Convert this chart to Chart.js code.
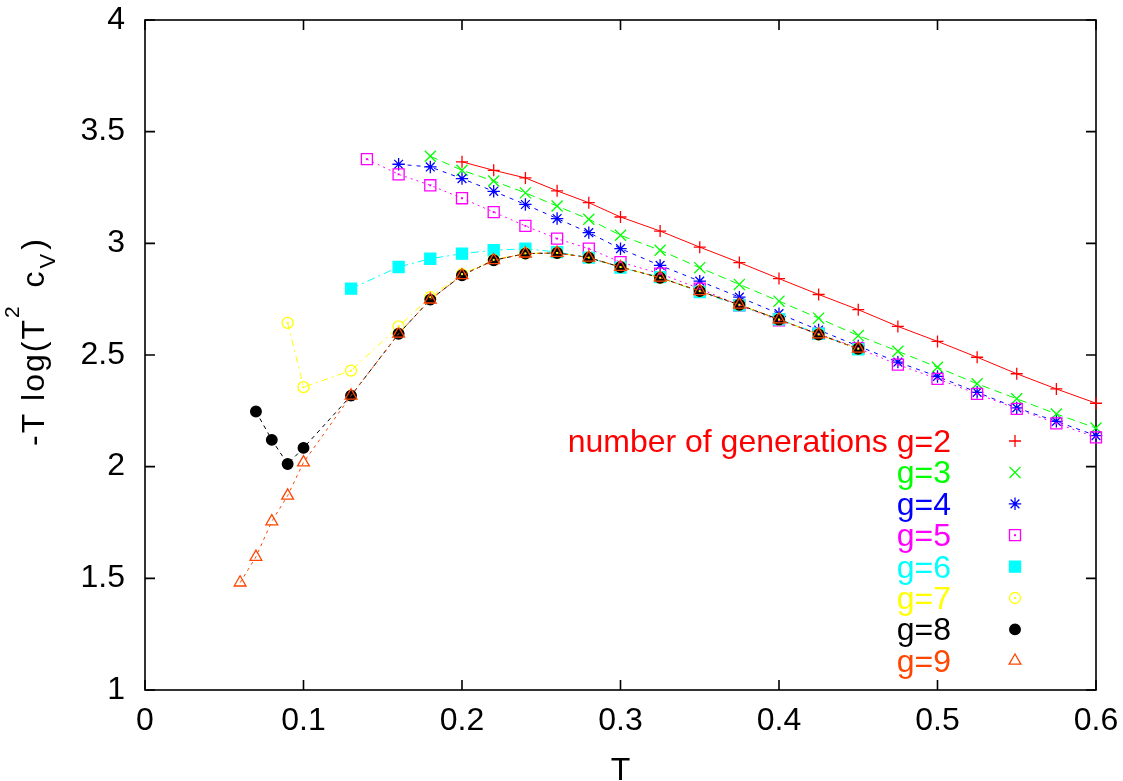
<!DOCTYPE html>
<html>
<head>
<meta charset="utf-8">
<script src="https://cdn.jsdelivr.net/npm/chart.js@4.4.1/dist/chart.umd.min.js"></script>
<style>
html, body { margin: 0; padding: 0; background: #fff; }
#wrap { width: 1123px; height: 781px; position: relative; }
</style>
</head>
<body>
<div id="wrap"><canvas id="myChart"></canvas></div>
<script>
'use strict';

// ---- data ----
let xTickLabels = ['0', '0.1', '0.2', '0.3', '0.4', '0.5', '0.6'];
let yTickLabels = ['1', '1.5', '2', '2.5', '3', '3.5', '4'];

let seriesNames = ['number of generations g=2', 'g=3', 'g=4', 'g=5', 'g=6', 'g=7', 'g=8', 'g=9'];

let tG2 = [0.2, 0.22, 0.24, 0.26, 0.28, 0.3, 0.325, 0.35, 0.375, 0.4, 0.425, 0.45, 0.475, 0.5, 0.525, 0.55, 0.575, 0.6];
let yG2 = [3.365, 3.327, 3.293, 3.235, 3.182, 3.118, 3.055, 2.983, 2.914, 2.842, 2.771, 2.703, 2.628, 2.561, 2.490, 2.416, 2.348, 2.284];

let tG3 = [0.18, 0.2, 0.22, 0.24, 0.26, 0.28, 0.3, 0.325, 0.35, 0.375, 0.4, 0.425, 0.45, 0.475, 0.5, 0.525, 0.55, 0.575, 0.6];
let yG3 = [3.39, 3.327, 3.279, 3.226, 3.167, 3.108, 3.036, 2.969, 2.891, 2.816, 2.741, 2.665, 2.587, 2.517, 2.445, 2.371, 2.304, 2.236, 2.173];

let tG4 = [0.16, 0.18, 0.2, 0.22, 0.24, 0.26, 0.28, 0.3, 0.325, 0.35, 0.375, 0.4, 0.425, 0.45, 0.475, 0.5, 0.525, 0.55, 0.575, 0.6];
let yG4 = [3.354, 3.342, 3.290, 3.233, 3.174, 3.111, 3.048, 2.976, 2.901, 2.831, 2.759, 2.685, 2.612, 2.540, 2.468, 2.404, 2.333, 2.263, 2.203, 2.139];

let tG5 = [0.14, 0.16, 0.18, 0.2, 0.22, 0.24, 0.26, 0.28, 0.3, 0.325, 0.35, 0.375, 0.4, 0.425, 0.45, 0.475, 0.5, 0.525, 0.55, 0.575, 0.6];
let yG5 = [3.377, 3.309, 3.260, 3.202, 3.140, 3.078, 3.021, 2.976, 2.916, 2.864, 2.797, 2.722, 2.655, 2.595, 2.530, 2.457, 2.393, 2.326, 2.259, 2.194, 2.131];

let tG6 = [0.13, 0.16, 0.18, 0.2, 0.22, 0.24, 0.26, 0.28, 0.3, 0.325, 0.35, 0.375, 0.4, 0.425, 0.45];
let yG6 = [2.797, 2.894, 2.931, 2.954, 2.969, 2.976, 2.961, 2.936, 2.891, 2.849, 2.782, 2.722, 2.660, 2.595, 2.525];

let tG7 = [0.09, 0.1, 0.13, 0.16, 0.18, 0.2, 0.22, 0.24, 0.26, 0.28, 0.3, 0.325, 0.35, 0.375, 0.4, 0.425, 0.45];
let yG7 = [2.644, 2.356, 2.430, 2.628, 2.759, 2.862, 2.926, 2.955, 2.957, 2.936, 2.894, 2.846, 2.786, 2.725, 2.659, 2.592, 2.528];

let tG8 = [0.07, 0.08, 0.09, 0.1, 0.13, 0.16, 0.18, 0.2, 0.22, 0.24, 0.26, 0.28, 0.3, 0.325, 0.35, 0.375, 0.4, 0.425, 0.45];
let yG8 = [2.247, 2.120, 2.012, 2.084, 2.318, 2.595, 2.748, 2.857, 2.924, 2.954, 2.957, 2.936, 2.894, 2.846, 2.786, 2.725, 2.659, 2.592, 2.528];

let tG9 = [0.06, 0.07, 0.08, 0.09, 0.1, 0.13, 0.16, 0.18, 0.2, 0.22, 0.24, 0.26, 0.28, 0.3, 0.325, 0.35, 0.375, 0.4, 0.425, 0.45];
let yG9 = [1.481, 1.596, 1.755, 1.870, 2.019, 2.318, 2.595, 2.748, 2.857, 2.924, 2.954, 2.957, 2.936, 2.894, 2.846, 2.786, 2.725, 2.659, 2.592, 2.528];

let allT = [tG2, tG3, tG4, tG5, tG6, tG7, tG8, tG9];
let allY = [yG2, yG3, yG4, yG5, yG6, yG7, yG8, yG9];

// ---- styles ----
let colors = ['#ff0000', '#00ff00', '#0000ff', '#ff00ff', '#00ffff', '#ffff00', '#000000', '#ff4500'];
let pointStyles = ['cross', 'crossRot', 'star', 'rect', 'rect', 'circle', 'circle', 'triangle'];
let pointSizes = [6, 7.8, 6.2, 7.8, 7.8, 5.5, 5.3, 6.8];
let filled = [false, false, false, false, true, false, true, false];
let dashes = [[], [8, 5], [4, 5], [2, 4], [8, 4, 2, 4], [7, 4, 2, 4], [4, 4], [3, 4]];

const FONT = '"Liberation Sans", Arial, Helvetica, sans-serif';

function makePoints(ts, ys) {
    let pts = [];
    for (let i = 0; i < ts.length; i++) {
        pts.push({ x: ts[i], y: ys[i] });
    }
    return pts;
}

let datasets = [];
for (let k = 0; k < allT.length; k++) {
    datasets.push({
        label: seriesNames[k],
        data: makePoints(allT[k], allY[k]),
        showLine: true,
        borderColor: colors[k],
        borderWidth: 1,
        borderDash: dashes[k],
        backgroundColor: filled[k] ? colors[k] : 'rgba(0,0,0,0)',
        pointStyle: pointStyles[k],
        pointRadius: pointSizes[k],
        pointBorderWidth: 1.3,
        pointBorderColor: colors[k],
        pointBackgroundColor: filled[k] ? colors[k] : 'rgba(0,0,0,0)',
        fill: false,
        clip: false,
        order: 10 - k
    });
}

// frame with inward ticks on all four sides (gnuplot style)
let framePlugin = {
    id: 'frame',
    beforeDatasetsDraw(chart) {
        let ctx = chart.ctx;
        let a = chart.chartArea;
        let xs = chart.scales.x;
        let ys = chart.scales.y;
        ctx.save();
        ctx.strokeStyle = '#000';
        ctx.lineWidth = 1.6;
        ctx.strokeRect(a.left, a.top, a.right - a.left, a.bottom - a.top);
        ctx.beginPath();
        xs.ticks.forEach(t => {
            let px = xs.getPixelForValue(t.value);
            ctx.moveTo(px, a.bottom); ctx.lineTo(px, a.bottom - 10);
            ctx.moveTo(px, a.top); ctx.lineTo(px, a.top + 10);
        });
        ys.ticks.forEach(t => {
            let py = ys.getPixelForValue(t.value);
            ctx.moveTo(a.left, py); ctx.lineTo(a.left + 10, py);
            ctx.moveTo(a.right, py); ctx.lineTo(a.right - 10, py);
        });
        ctx.stroke();
        ctx.restore();
    }
};

// small centre dots inside the open square and open circle markers
let dotPlugin = {
    id: 'dots',
    afterDatasetsDraw(chart) {
        let ctx = chart.ctx;
        [3, 5].forEach(k => {
            let meta = chart.getDatasetMeta(k);
            ctx.save();
            ctx.fillStyle = colors[k];
            meta.data.forEach(p => {
                ctx.fillRect(p.x - 1, p.y - 1, 2, 2);
            });
            ctx.restore();
        });
    }
};

// axis titles and the key, drawn as canvas text
let textPlugin = {
    id: 'texts',
    afterDraw(chart) {
        let ctx = chart.ctx;
        let a = chart.chartArea;
        ctx.save();
        ctx.fillStyle = '#000';
        ctx.textBaseline = 'alphabetic';

        // x title
        ctx.font = '32px ' + FONT;
        ctx.textAlign = 'center';
        ctx.fillText('T', (a.left + a.right) / 2, 780);

        // y title with super/subscript
        ctx.save();
        ctx.translate(44, 446);
        ctx.rotate(-Math.PI / 2);
        ctx.textAlign = 'left';
        ctx.letterSpacing = '2px';
        let parts = [
            ['-T log(T', 32, 0, 0],
            ['2', 21, -25, 6],
            [' c', 32, 0, 1],
            ['V', 22, 11, 2],
            [')', 32, 0, 0]
        ];
        let cx = 0;
        parts.forEach(p => {
            ctx.font = p[1] + 'px ' + FONT;
            ctx.fillText(p[0], cx, p[2]);
            cx += ctx.measureText(p[0]).width + p[3];
        });
        ctx.restore();

        // key
        for (let k = 0; k < seriesNames.length; k++) {
            let base = 452 + 31.4 * k;
            ctx.font = '32px ' + FONT;
            ctx.textAlign = 'right';
            ctx.fillStyle = colors[k];
            ctx.fillText(seriesNames[k], 951, base);
            ctx.strokeStyle = colors[k];
            ctx.lineWidth = 1.3;
            ctx.setLineDash([]);
            ctx.fillStyle = filled[k] ? colors[k] : 'rgba(0,0,0,0)';
            Chart.helpers.drawPoint(ctx, {
                pointStyle: pointStyles[k],
                radius: pointSizes[k],
                borderWidth: 1.3,
                rotation: 0
            }, 1015, base - 11);
            if (k === 3 || k === 5) {
                ctx.fillStyle = colors[k];
                ctx.fillRect(1014, base - 12, 2, 2);
            }
        }
        ctx.restore();
    }
};

let ctx = document.getElementById('myChart').getContext('2d');
let myChart = new Chart(ctx, {
    type: 'scatter',
    data: { datasets: datasets },
    options: {
        responsive: true,
        maintainAspectRatio: false,
        animation: false,
        layout: { padding: { left: 0, top: 20, right: 27, bottom: 0 } },
        plugins: {
            legend: { display: false },
            tooltip: { enabled: false }
        },
        scales: {
            x: {
                type: 'linear',
                min: 0,
                max: 0.6,
                grid: { display: false, drawTicks: false },
                border: { display: false },
                ticks: {
                    stepSize: 0.1,
                    padding: 12,
                    color: '#000',
                    maxRotation: 0,
                    font: { family: FONT, size: 32 },
                    callback: (v, i) => xTickLabels[i]
                },
                afterFit: s => {
                    s.height = 91;
                    s.paddingLeft = 0;
                    s.paddingRight = 0;
                }
            },
            y: {
                type: 'linear',
                min: 1,
                max: 4,
                grid: { display: false, drawTicks: false },
                border: { display: false },
                ticks: {
                    stepSize: 0.5,
                    padding: 20,
                    color: '#000',
                    font: { family: FONT, size: 32 },
                    callback: (v, i) => yTickLabels[i]
                },
                afterFit: s => {
                    s.width = 145;
                    s.paddingTop = 0;
                    s.paddingBottom = 0;
                }
            }
        }
    },
    plugins: [framePlugin, dotPlugin, textPlugin]
});
</script>
</body>
</html>
